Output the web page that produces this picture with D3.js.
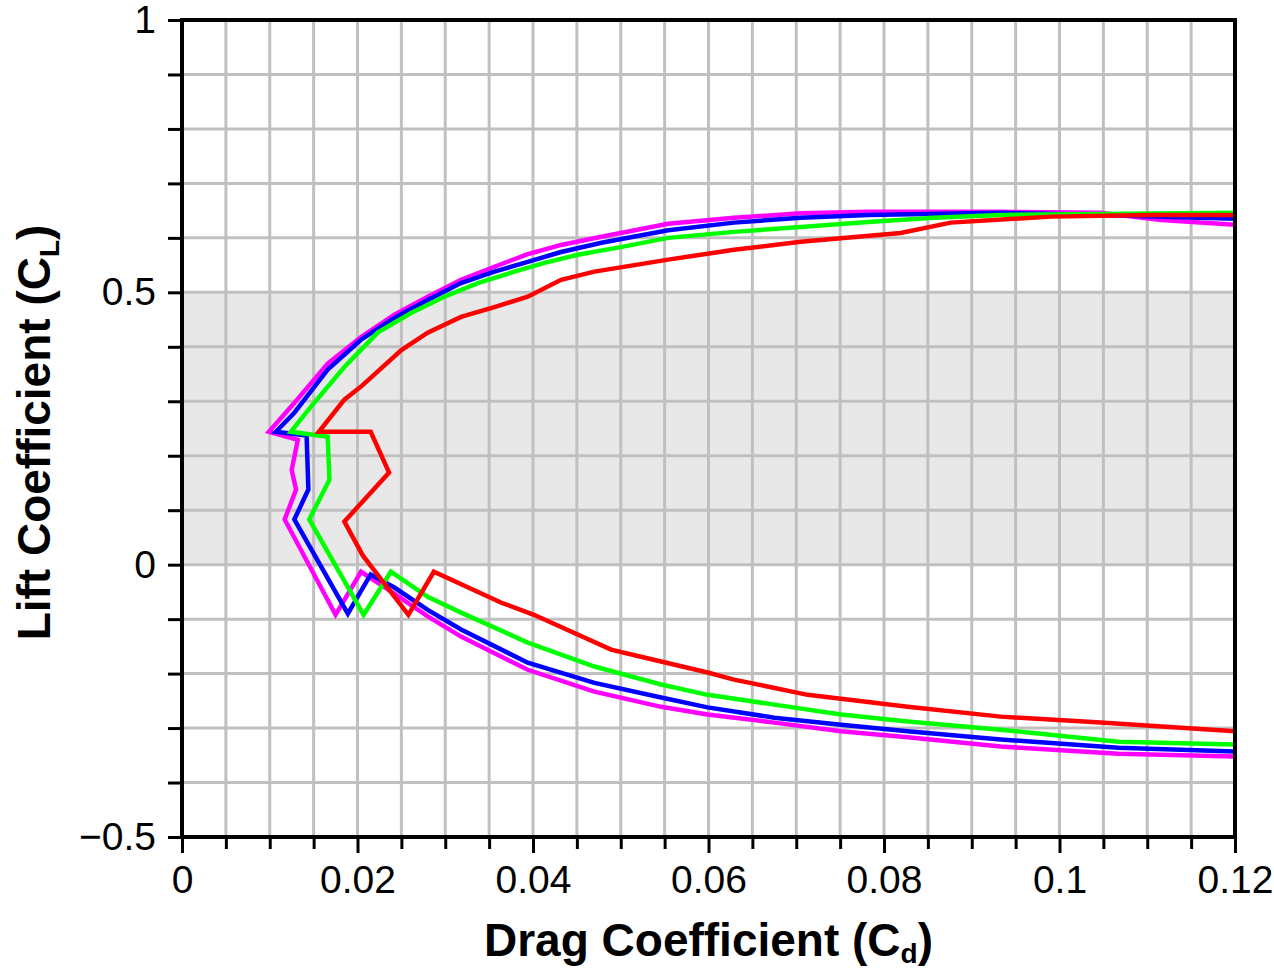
<!DOCTYPE html>
<html lang="en">
<head>
    <meta charset="UTF-8">
    <title>Drag polar</title>
    <script src="https://cdn.jsdelivr.net/npm/d3@7"></script>
    <style>
        body { margin: 0; background: #fff; }
        svg { display: block; }
    </style>
</head>
<body>
<script type="text/javascript">
    var width = 1274;
    var height = 968;

    // labelled ticks
    var xTickLabels = [0, 0.02, 0.04, 0.06, 0.08, 0.1, 0.12];
    var yTickLabels = [-0.5, 0, 0.5, 1];

    // polars, drawn from negative alpha to positive alpha
    var magentaCd = [0.1200, 0.1067, 0.0933, 0.0827, 0.0751, 0.0675, 0.0599, 0.0546, 0.0470, 0.0394, 0.0318, 0.0280, 0.0242, 0.0204,
        0.0175, 0.0117, 0.0130, 0.0125, 0.0132, 0.0099, 0.0128, 0.0166, 0.0204, 0.0242, 0.0280, 0.0318, 0.0356, 0.0394,
        0.0432, 0.0478, 0.0554, 0.0629, 0.0705, 0.0782, 0.0933, 0.1047, 0.1116, 0.1200];
    var magentaCl = [-0.352, -0.347, -0.334, -0.317, -0.306, -0.290, -0.275, -0.261, -0.233, -0.193, -0.132, -0.095, -0.053, -0.013,
        -0.092, 0.083, 0.138, 0.174, 0.229, 0.244, 0.297, 0.369, 0.418, 0.459, 0.492, 0.523, 0.547, 0.570,
        0.587, 0.602, 0.626, 0.637, 0.645, 0.648, 0.648, 0.646, 0.633, 0.624];

    var blueCd = [0.1200, 0.1067, 0.0933, 0.0827, 0.0751, 0.0675, 0.0599, 0.0546, 0.0470, 0.0394, 0.0318, 0.0280, 0.0242, 0.0215,
        0.0189, 0.0128, 0.0144, 0.0142, 0.0107, 0.0128, 0.0166, 0.0204, 0.0242, 0.0280, 0.0318, 0.0356, 0.0394, 0.0432,
        0.0478, 0.0554, 0.0629, 0.0705, 0.0782, 0.0933, 0.1047, 0.1200];
    var blueCl = [-0.343, -0.336, -0.321, -0.306, -0.294, -0.281, -0.262, -0.244, -0.217, -0.180, -0.119, -0.083, -0.042, -0.018,
        -0.090, 0.083, 0.138, 0.237, 0.244, 0.279, 0.358, 0.413, 0.453, 0.486, 0.517, 0.538, 0.556, 0.574,
        0.591, 0.614, 0.628, 0.637, 0.642, 0.646, 0.642, 0.635];

    var greenCd = [0.1200, 0.1067, 0.0933, 0.0827, 0.0751, 0.0675, 0.0599, 0.0546, 0.0470, 0.0394, 0.0318, 0.0280, 0.0238, 0.0207,
        0.0145, 0.0168, 0.0166, 0.0124, 0.0147, 0.0185, 0.0223, 0.0261, 0.0299, 0.0337, 0.0375, 0.0413, 0.0451, 0.0500,
        0.0554, 0.0629, 0.0705, 0.0782, 0.0857, 0.0933, 0.1200];
    var greenCl = [-0.330, -0.325, -0.303, -0.288, -0.275, -0.257, -0.239, -0.220, -0.187, -0.143, -0.088, -0.059, -0.013, -0.092,
        0.083, 0.156, 0.235, 0.244, 0.290, 0.363, 0.426, 0.462, 0.492, 0.517, 0.536, 0.554, 0.569, 0.583,
        0.600, 0.611, 0.620, 0.629, 0.637, 0.642, 0.646];

    var redCd = [0.1200, 0.1047, 0.0933, 0.0827, 0.0713, 0.0629, 0.0599, 0.0523, 0.0489, 0.0401, 0.0364, 0.0287, 0.0258, 0.0206,
        0.0185, 0.0236, 0.0215, 0.0156, 0.0185, 0.0204, 0.0250, 0.0280, 0.0318, 0.0356, 0.0394, 0.0432, 0.0470, 0.0554,
        0.0629, 0.0705, 0.0819, 0.0876, 0.0990, 0.1104, 0.1200];
    var redCl = [-0.306, -0.290, -0.279, -0.261, -0.239, -0.211, -0.198, -0.169, -0.156, -0.092, -0.070, -0.013, -0.092, 0.017,
        0.079, 0.169, 0.244, 0.244, 0.303, 0.327, 0.394, 0.426, 0.455, 0.473, 0.492, 0.523, 0.538, 0.560,
        0.578, 0.593, 0.609, 0.628, 0.639, 0.642, 0.642];

    var series = [
        {color: "#ff00ff", cd: magentaCd, cl: magentaCl},
        {color: "#0000ff", cd: blueCd, cl: blueCl},
        {color: "#00ff00", cd: greenCd, cl: greenCl},
        {color: "#ff0000", cd: redCd, cl: redCl}
    ];

    var plot = {left: 182, right: 1235, top: 20, bottom: 837};

    var svg = d3.select("body").append("svg")
            .attr("width", width)
            .attr("height", height);

    var xScale = d3.scaleLinear()
            .domain([0, 0.12])
            .range([plot.left, plot.right]);
    var yScale = d3.scaleLinear()
            .domain([-0.5, 1])
            .range([plot.bottom, plot.top]);

    var xMinor = d3.range(0, 24.5).map(function (i) { return i * 0.005; });
    var yMinor = d3.range(0, 15.5).map(function (i) { return -0.5 + i * 0.1; });

    function isLabelled(list, v) {
        return list.some(function (t) { return Math.abs(t - v) < 1e-9; });
    }

    function drawBackground() {
        // shaded band between Cl = 0 and Cl = 0.5
        svg.append("rect")
                .attr("x", plot.left)
                .attr("y", yScale(0.5))
                .attr("width", plot.right - plot.left)
                .attr("height", yScale(0) - yScale(0.5))
                .attr("fill", "#e8e8e8");

        var grid = svg.append("g").attr("stroke", "#c0c0c0").attr("stroke-width", 3);
        grid.selectAll("line.vx")
                .data(xMinor)
                .enter()
                .append("line")
                .attr("x1", function (d) { return xScale(d); })
                .attr("x2", function (d) { return xScale(d); })
                .attr("y1", plot.top)
                .attr("y2", plot.bottom);
        grid.selectAll("line.hy")
                .data(yMinor)
                .enter()
                .append("line")
                .attr("x1", plot.left)
                .attr("x2", plot.right)
                .attr("y1", function (d) { return yScale(d); })
                .attr("y2", function (d) { return yScale(d); });
    }

    function drawCurves() {
        svg.append("clipPath").attr("id", "clip")
                .append("rect")
                .attr("x", plot.left)
                .attr("y", plot.top)
                .attr("width", plot.right - plot.left)
                .attr("height", plot.bottom - plot.top);

        var line = d3.line()
                .x(function (d) { return xScale(d[0]); })
                .y(function (d) { return yScale(d[1]); });

        svg.append("g").attr("clip-path", "url(#clip)")
                .selectAll("path")
                .data(series)
                .enter()
                .append("path")
                .attr("fill", "none")
                .attr("stroke", function (d) { return d.color; })
                .attr("stroke-width", 4.5)
                .attr("d", function (d) {
                    return line(d.cd.map(function (v, i) { return [v, d.cl[i]]; }));
                });
    }

    function drawAxis() {
        var xAxis = d3.axisBottom(xScale)
                .tickValues(xMinor)
                .tickSize(12)
                .tickPadding(16)
                .tickFormat(function (d) {
                    return isLabelled(xTickLabels, d) ? String(+d.toFixed(2)) : "";
                });
        var gx = svg.append("g")
                .attr("transform", "translate(0," + plot.bottom + ")")
                .call(xAxis);
        gx.selectAll(".tick line")
                .attr("stroke-width", 3)
                .attr("y2", function (d) { return isLabelled(xTickLabels, d) ? 16 : 12; });

        var yAxis = d3.axisLeft(yScale)
                .tickValues(yMinor)
                .tickSize(14)
                .tickPadding(12)
                .tickFormat(function (d) {
                    return isLabelled(yTickLabels, d) ? d3.format("~g")(+d.toFixed(2)) : "";
                });
        var gy = svg.append("g")
                .attr("transform", "translate(" + plot.left + ",0)")
                .call(yAxis);
        gy.selectAll(".tick line").attr("stroke-width", 3);

        svg.selectAll(".domain").remove();
        svg.selectAll(".tick text")
                .attr("font-family", "Liberation Sans, Arial, sans-serif")
                .attr("font-size", "39px")
                .attr("fill", "#000");

        // frame
        svg.append("rect")
                .attr("x", plot.left)
                .attr("y", plot.top)
                .attr("width", plot.right - plot.left)
                .attr("height", plot.bottom - plot.top)
                .attr("fill", "none")
                .attr("stroke", "#000")
                .attr("stroke-width", 4);
    }

    function drawTitles() {
        var xt = svg.append("text")
                .attr("x", (plot.left + plot.right) / 2)
                .attr("y", 956)
                .attr("text-anchor", "middle")
                .attr("font-family", "Liberation Sans, Arial, sans-serif")
                .attr("font-weight", "bold")
                .attr("font-size", "46px");
        xt.append("tspan").text("Drag Coefficient (C");
        xt.append("tspan").attr("font-size", "28px").attr("dy", 7).text("d");
        xt.append("tspan").attr("dy", -7).text(")");

        var yt = svg.append("text")
                .attr("transform", "translate(50," + ((plot.top + plot.bottom) / 2 + 4) + ") rotate(-90)")
                .attr("text-anchor", "middle")
                .attr("font-family", "Liberation Sans, Arial, sans-serif")
                .attr("font-weight", "bold")
                .attr("font-size", "46px");
        yt.append("tspan").text("Lift Coefficient (C");
        yt.append("tspan").attr("font-size", "28px").attr("dy", 9).text("L");
        yt.append("tspan").attr("dy", -9).text(")");
    }

    drawBackground();
    drawCurves();
    drawAxis();
    drawTitles();
</script>
</body>
</html>
